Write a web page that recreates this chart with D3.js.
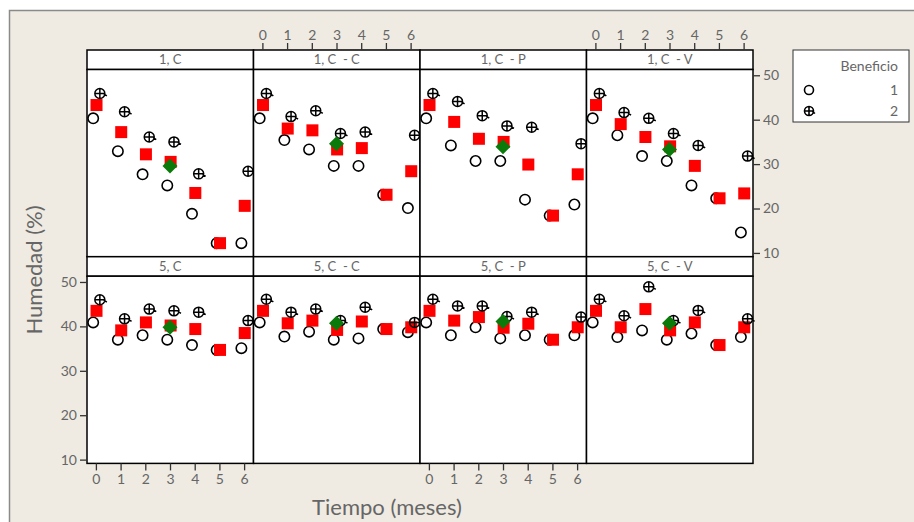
<!DOCTYPE html>
<html><head><meta charset="utf-8">
<script src="https://cdn.jsdelivr.net/npm/d3@7"></script>
<style>body{margin:0;background:#fff;} svg{display:block;font-family:Lato,"Open Sans",sans-serif;}</style>
</head><body>
<svg id="c" width="914" height="522"></svg>
<script>
const times = [0,1,2,3,4,5,6];
const panels = ["1, C","1, C  - C","1, C  - P","1, C  - V","5, C","5, C  - C","5, C  - P","5, C  - V"];
const yTicks = [10,20,30,40,50];
const benef1 = [
 [40.3,32.9,27.7,25.2,18.8,12.2,12.2],
 [40.3,35.4,33.3,29.6,29.6,23.1,20.1],
 [40.3,34.2,30.7,30.7,22.0,18.4,20.9],
 [40.3,36.5,31.8,30.7,25.2,22.3,14.6],
 [40.9,37.0,38.0,37.0,35.8,34.7,35.1],
 [40.9,37.7,38.8,37.0,37.3,39.4,38.7],
 [40.9,38.0,39.8,37.3,38.0,37.0,38.0],
 [40.9,37.6,39.1,37.0,38.4,35.8,37.6]
];
const benef2 = [
 [45.9,41.8,36.1,35.0,27.8,null,28.4],
 [45.9,40.7,42.0,36.9,37.2,null,36.5],
 [45.9,44.1,40.9,38.6,38.3,null,34.6],
 [45.9,41.6,40.3,36.9,34.2,null,31.8],
 [46.0,41.7,43.9,43.5,43.2,null,41.3],
 [46.1,43.2,43.9,41.3,44.3,null,40.9],
 [46.1,44.6,44.6,42.2,43.2,null,42.1],
 [46.1,42.4,48.9,41.3,43.6,null,41.7]
];
const means = [
 [43.3,37.2,32.2,30.5,23.5,12.2,20.6],
 [43.3,38.0,37.6,33.3,33.6,23.1,28.4],
 [43.3,39.5,35.7,35.0,29.9,18.4,27.7],
 [43.3,39.0,36.1,34.0,29.6,22.3,23.4],
 [43.5,39.1,40.9,40.2,39.4,34.7,38.5],
 [43.5,40.7,41.3,39.2,41.1,39.4,39.8],
 [43.5,41.3,42.1,39.7,40.6,37.0,39.8],
 [43.5,39.8,43.9,39.1,40.9,35.8,39.8]
];
const diamondTime = 3;
const diamondVals = [29.6,34.6,33.9,33.3,39.8,40.7,41.1,40.7];
const legendItems = ["1","2"];

const svg = d3.select("#c");
const txt = "#666";
svg.append("rect").attr("x",9.5).attr("y",10.5).attr("width",920).attr("height",530)
  .attr("fill","#efebe2").attr("stroke","#8a8a8a").attr("stroke-width",1.5);

const gridLeft = 87, gridTop = 50, cellW = 166.5, cellH = 206.7, stripH = 19.5;
const x = d3.scaleLinear().domain([-0.36,6.38]).range([0,cellW]);
const y = d3.scaleLinear().domain([9.15,51.3]).range([cellH-stripH,0]);

const crossPath = "M-5,0A5,5 0 1,0 5,0A5,5 0 1,0 -5,0M-5,0H5M0,-5V5M4,0.5L7,2.5";

panels.forEach((name,i)=>{
  const r = Math.floor(i/4), c = i%4;
  const gx = gridLeft + c*cellW, gy = gridTop + r*cellH;
  const g = svg.append("g").attr("transform",`translate(${gx},${gy})`);
  g.append("rect").attr("width",cellW).attr("height",stripH).attr("fill","#fff").attr("stroke","#000").attr("stroke-width",1.5);
  g.append("text").attr("x",cellW/2).attr("y",stripH/2+4.5).attr("text-anchor","middle")
    .attr("font-size",13).attr("fill",txt).style("white-space","pre").text(name);
  const p = g.append("g").attr("transform",`translate(0,${stripH})`);
  p.append("rect").attr("width",cellW).attr("height",cellH-stripH).attr("fill","#fff");
  const data = times.map((t,k)=>({t,b1:benef1[i][k],b2:benef2[i][k],m:means[i][k]}));
  p.selectAll(".b1").data(data).join("circle")
    .attr("cx",d=>x(d.t-0.11)).attr("cy",d=>y(d.b1)).attr("r",5.2)
    .attr("fill","none").attr("stroke","#000").attr("stroke-width",1.6);
  p.selectAll(".m").data(data).join("rect")
    .attr("x",d=>x(d.t+0.025)-6).attr("y",d=>y(d.m)-6).attr("width",12).attr("height",12)
    .attr("fill","#ff0000");
  p.selectAll(".b2").data(data.filter(d=>d.b2!=null)).join("path")
    .attr("transform",d=>`translate(${x(d.t+0.16)},${y(d.b2)})`).attr("d",crossPath)
    .attr("fill","none").attr("stroke","#000").attr("stroke-width",1.5);
  p.append("path").attr("transform",`translate(${x(diamondTime)},${y(diamondVals[i])})`)
    .attr("d","M0,-7.5L7.5,0L0,7.5L-7.5,0Z").attr("fill","#0a7a0a");
  p.append("rect").attr("width",cellW).attr("height",cellH-stripH).attr("fill","none").attr("stroke","#000").attr("stroke-width",1.5);

  const styleAxis = a=>{ a.select(".domain").remove(); a.selectAll("line").attr("stroke","#333").attr("stroke-width",1.3);
    a.selectAll("text").attr("fill",txt).attr("font-size",14).attr("font-family","Lato,'Open Sans',sans-serif"); };
  const fmt = d3.format("d");
  if (r===1 && (c===0 || c===2)) {
    p.append("g").attr("transform",`translate(0,${cellH-stripH})`)
      .call(d3.axisBottom(x).tickValues(times).tickFormat(fmt).tickSize(7).tickPadding(4)).call(styleAxis);
  }
  if (r===0 && (c===1 || c===3)) {
    g.append("g").call(d3.axisTop(x).tickValues(times).tickFormat(fmt).tickSize(7).tickPadding(3)).call(styleAxis);
  }
  if (r===1 && c===0) {
    p.append("g").call(d3.axisLeft(y).tickValues(yTicks).tickFormat(fmt).tickSize(7).tickPadding(3)).call(styleAxis);
  }
  if (r===0 && c===3) {
    p.append("g").attr("transform",`translate(${cellW},0)`)
      .call(d3.axisRight(y).tickValues(yTicks).tickFormat(fmt).tickSize(7).tickPadding(3)).call(styleAxis);
  }
});

svg.append("text").attr("x",387).attr("y",515).attr("text-anchor","middle").attr("font-size",22).attr("fill",txt).text("Tiempo (meses)");
svg.append("text").attr("transform","translate(42,270) rotate(-90)").attr("text-anchor","middle").attr("font-size",22).attr("fill",txt).text("Humedad (%)");

const lg = svg.append("g").attr("transform","translate(793,50)");
lg.append("rect").attr("width",116).attr("height",72).attr("fill","#fff").attr("stroke","#333").attr("stroke-width",1);
lg.append("text").attr("x",105).attr("y",21).attr("text-anchor","end").attr("font-size",14).attr("fill",txt).text("Beneficio");
legendItems.forEach((l,k)=>{
  const yy = 40 + k*21;
  lg.append("text").attr("x",105).attr("y",yy+5).attr("text-anchor","end").attr("font-size",14).attr("fill",txt).text(l);
  if (k===0) lg.append("circle").attr("cx",16).attr("cy",yy).attr("r",4.5).attr("fill","none").attr("stroke","#000").attr("stroke-width",1.6);
  else lg.append("path").attr("transform",`translate(16,${yy})`).attr("d","M-4.5,0A4.5,4.5 0 1,0 4.5,0A4.5,4.5 0 1,0 -4.5,0M-4.5,0H4.5M0,-4.5V4.5M3.5,0.5L6,2.5").attr("fill","none").attr("stroke","#000").attr("stroke-width",1.6);
});
</script>
</body></html>
